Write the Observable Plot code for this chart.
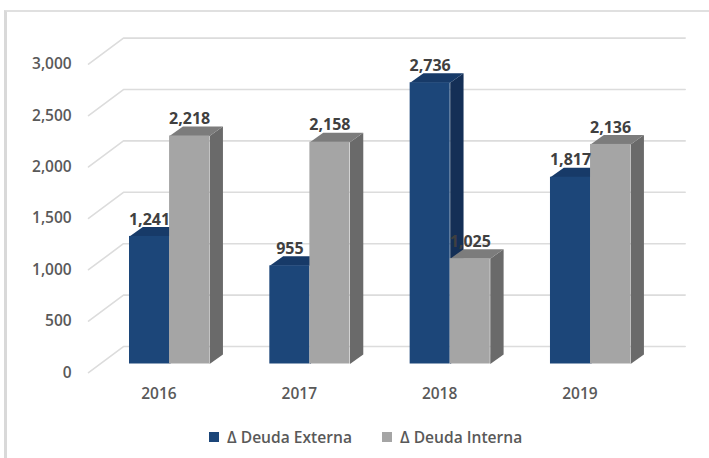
<!DOCTYPE html>
<html><head><meta charset="utf-8">
<script src="https://cdn.jsdelivr.net/npm/d3@7"></script>
<script src="https://cdn.jsdelivr.net/npm/@observablehq/plot@0.6"></script>
<style>
html,body{margin:0;padding:0;background:#fff;width:709px;height:458px;overflow:hidden;font-family:"Open Sans",sans-serif}
#frame{position:absolute;left:4px;top:10px;right:0;bottom:0;border-left:3px solid #d9d9d9;border-top:2px solid #e0e0e0}
#chart{position:absolute;left:0;top:0}
#legend{position:absolute;left:209px;top:426px;display:flex;align-items:center;font-weight:600;font-size:15.6px;color:#595959;white-space:nowrap}
#legend i{display:inline-block;width:10px;height:10px;margin-right:8px}
#legend span{margin-right:30px;display:flex;align-items:center}
</style></head><body>
<div id="frame"></div>
<div id="chart"></div>
<div id="legend"></div>
<script>
const years = ["2016","2017","2018","2019"];
const externa = [1241, 955, 2736, 1817];
const interna = [2218, 2158, 1025, 2136];
const yTicks = [0, 500, 1000, 1500, 2000, 2500, 3000];
const seriesNames = ["Δ Deuda Externa", "Δ Deuda Interna"];
const colors = {blueFront:"#1c4679", blueTop:"#173a68", blueSide:"#142f56", greyFront:"#a5a5a5", greyTop:"#7c7c7c", greySide:"#6a6a6a", grid:"#dcdcdc", text:"#595959", label:"#404040"};

// Pseudo-3D geometry, in scale units
const barW = 0.2855, depthX = 0.095, depthY = 92;
const frontX = -0.292, backX = -0.043, endX = 3.96, frontY = -83, backY = 170;

function faces(values, off) {
  const side = [], top = [];
  values.forEach((v, i) => {
    const a = i + off, b = a + barW;
    [[b,0],[b+depthX,depthY],[b+depthX,v+depthY],[b,v]].forEach(p => side.push({x:p[0],y:p[1],z:i}));
    [[a,v],[a+depthX,v+depthY],[b+depthX,v+depthY],[b,v]].forEach(p => top.push({x:p[0],y:p[1],z:i}));
  });
  return {side, top};
}
const blue = faces(externa, 0), grey = faces(interna, barW);
const grid = yTicks.flatMap(t => [{x:frontX,y:t+frontY,z:t},{x:backX,y:t+backY,z:t},{x:endX,y:t+backY,z:t}]);
const fmt = d3.format(",");
const poly = (data, fill) => Plot.line(data, {x:"x", y:"y", z:"z", fill, stroke:"none"});
const front = (values, off, fill) => Plot.rect(values, {x1:(d,i)=>i+off, x2:(d,i)=>i+off+barW, y1:0, y2:d=>d, fill, inset:0});
const valueLabels = (values, off) => Plot.text(values, {x:(d,i)=>i+off+barW/2, y:d=>d, dy:-17, text:d=>fmt(d), fontSize:16, fontWeight:700, fill:colors.label});

const chart = Plot.plot({
  width:709, height:420, margin:0,
  style:{background:"transparent", fontFamily:"'Open Sans',sans-serif"},
  x:{domain:[0,4], range:[129,690.3], axis:null},
  y:{domain:[0,3000], range:[363.5,55.1], axis:null},
  marks:[
    Plot.line(grid, {x:"x", y:"y", z:"z", stroke:colors.grid, strokeWidth:1.6, strokeLinejoin:"miter"}),
    poly(blue.side, colors.blueSide), poly(blue.top, colors.blueTop), front(externa, 0, colors.blueFront),
    poly(grey.side, colors.greySide), poly(grey.top, colors.greyTop), front(interna, barW, colors.greyFront),
    Plot.text(yTicks, {x:frontX-0.12, y:d=>d+frontY, dy:0, text:d=>fmt(d), textAnchor:"end", fontSize:15.5, fontWeight:600, fill:colors.text}),
    Plot.text(years, {x:(d,i)=>i+0.21, y:0, dy:30, text:d=>d, fontSize:15.5, fontWeight:600, fill:colors.text}),
    valueLabels(externa, 0), valueLabels(interna, barW)
  ]
});
document.getElementById("chart").append(chart);
const lg = document.getElementById("legend");
seriesNames.forEach((n, i) => {
  const s = document.createElement("span");
  const sw = document.createElement("i");
  sw.style.background = i ? colors.greyFront : colors.blueFront;
  s.append(sw, n);
  lg.append(s);
});
</script></body></html>
